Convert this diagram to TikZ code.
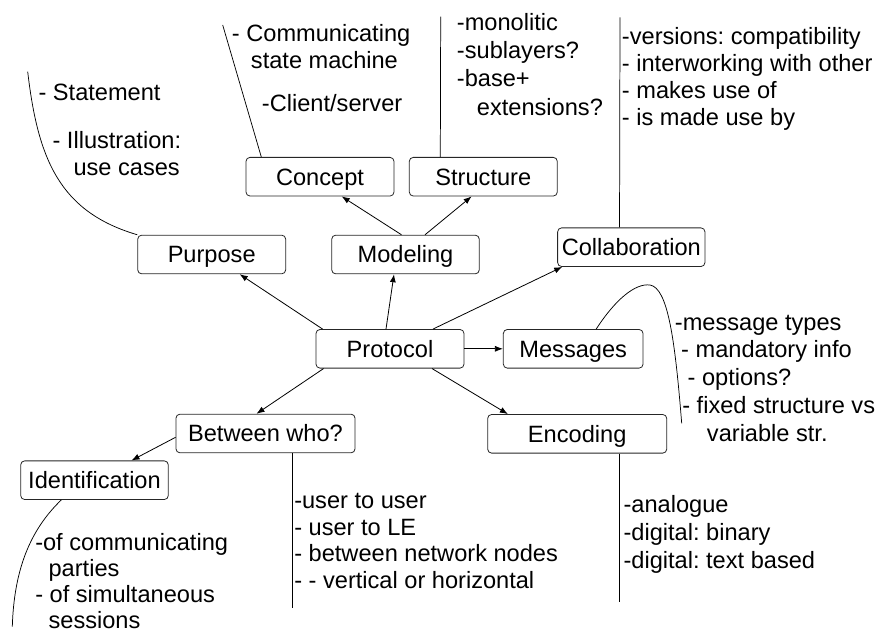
\documentclass[tikz,border=0pt]{standalone}
\usepackage{fontspec}
\setmainfont{Liberation Sans}
\usepackage{tikz}
\usetikzlibrary{positioning}
\usetikzlibrary{calc}
\usetikzlibrary{arrows.meta}
\frenchspacing

\newcommand{\lbl}{\fontsize{17.7pt}{20.3pt}\selectfont}

\begin{document}
\begin{tikzpicture}[x=0.75pt, y=-0.75pt,
  box/.style={draw=black!85, rounded corners=3pt, minimum height=29pt, inner sep=0pt,
    text height=12.7pt, text depth=0pt, line width=0.6pt, font=\lbl},
  note/.style={align=left, anchor=north west, inner sep=0pt, font=\lbl},
  arr/.style={-{Latex[length=6pt,width=4.5pt]}, line width=0.6pt},
  lead/.style={line width=0.55pt}]
  \useasboundingbox (0,0) rectangle (879,632);

  % boxes
  \node[box, minimum width=111pt] (protocol) at (390,348.8) {Protocol};
  \node[box, minimum width=111pt] (purpose) at (211.7,254.5) {Purpose};
  \node[box, minimum width=110.7pt] (modeling) at (405.5,254.5) {Modeling};
  \node[box, minimum width=111pt] (concept) at (320,176.7) {Concept};
  \node[box, minimum width=111pt] (structure) at (483.3,176.7) {Structure};
  \node[box, minimum width=110.5pt] (collab) at (631.3,247.2) {Collaboration};
  \node[box, minimum width=104.8pt] (messages) at (573.2,348.8) {Messages};
  \node[box, minimum width=134.3pt] (between) at (265.5,433.5) {Between who?};
  \node[box, minimum width=134.3pt] (encoding) at (577.2,433.8) {Encoding};
  \node[box, minimum width=110.7pt] (ident) at (94.5,480.2) {Identification};

  % arrows
  \draw[arr] ($(protocol.north west)+(7,0)$) -- ($(purpose.south)+(28,0)$);
  \draw[arr] ($(protocol.north)+(-4,0)$) -- ($(modeling.south)+(-11.5,0)$);
  \draw[arr] ($(protocol.north)+(43,0)$) -- ($(collab.south west)+(5,0)$);
  \draw[arr] (protocol.east) -- (messages.west);
  \draw[arr] ($(protocol.south)+(42,0)$) -- ($(encoding.north west)+(20.6,0)$);
  \draw[arr] ($(protocol.south west)+(8,0)$) -- ($(between.north)+(-9,0)$);
  \draw[arr] ($(modeling.north)+(-4,0)$) -- ($(concept.south)+(21.7,0)$);
  \draw[arr] ($(modeling.north)+(19.5,0)$) -- ($(structure.south)+(-11.7,0)$);
  \draw[arr] ($(between.west)+(0,3.8)$) -- ($(ident.north)+(37,0)$);

  % lead lines to the notes
  \coordinate (purposeTop) at (27.7,71.7);
  \coordinate (conceptTop) at (222.7,25);
  \coordinate (structureTop) at (440.7,16.7);
  \coordinate (collabTop) at (620,17.3);
  \coordinate (messagesPeak) at (650,285);
  \coordinate (messagesEnd) at (681.7,423.3);
  \coordinate (betweenEnd) at (292.7,608.3);
  \coordinate (encodingEnd) at (619.7,601.7);
  \coordinate (identEnd) at (12.3,626.7);

  \draw[lead] (purpose.north west) .. controls (60,212) and (38,160) .. (purposeTop);
  \draw[lead] ($(concept.north west)+(15.7,0)$) -- (conceptTop);
  \draw[lead] ($(structure.north west)+(31.4,0)$) -- (structureTop);
  \draw[lead] ($(collab.north west)+(62.3,0)$) -- (collabTop);
  \draw[lead] ($(messages.north)+(23,0)$) .. controls (615,300) and (635,283) .. (messagesPeak)
    .. controls (668,288) and (675,340) .. (messagesEnd);
  \draw[lead] ($(between.south)+(27.2,0)$) -- (betweenEnd);
  \draw[lead] ($(encoding.south)+(42.5,0)$) -- (encodingEnd);
  \draw[lead] ($(ident.south west)+(41,0)$) .. controls (30,530) and (14,570) .. (identEnd);

  % notes
  \node[note] (statement) at (38.3,84) {- Statement};
  \node[note] (illustration) at (52.3,131) {- Illustration:\\\hspace*{15.75pt}use cases};
  \node[note] (communicating) at (231.7,24.5) {- Communicating\\\hspace*{14.25pt}state machine};
  \node[note] (client) at (261.7,94.5) {-Client/server};
  \node[note, font=\fontsize{17.7pt}{21.2pt}\selectfont] (structnote) at (456.7,13)
    {-monolitic\\-sublayers?\\-base+\\\hspace*{15pt}extensions?};
  \node[note] (collabnote) at (621.7,27)
    {-versions: compatibility\\- interworking with other\\- makes use of\\- is made use by};
  \node[note, font=\fontsize{17.7pt}{20.9pt}\selectfont] (msgnote) at (674.7,314.5)
    {-message types\\\hspace*{4.7pt}- mandatory info\\\hspace*{9.5pt}- options?\\\hspace*{5.5pt}- fixed structure vs\\\hspace*{24pt}variable str.};
  \node[note, font=\fontsize{17.7pt}{20pt}\selectfont] (betweennote) at (294,493)
    {-user to user\\- user to LE\\- between network nodes\\- - vertical or horizontal};
  \node[note, font=\fontsize{17.7pt}{20.7pt}\selectfont] (encodingnote) at (623.3,495.5)
    {-analogue\\-digital: binary\\-digital: text based};
  \node[note, font=\fontsize{17.7pt}{19.6pt}\selectfont] (identnote) at (35,533)
    {-of communicating\\\hspace*{10pt}parties\\- of simultaneous\\\hspace*{10pt}sessions};
\end{tikzpicture}
\end{document}
